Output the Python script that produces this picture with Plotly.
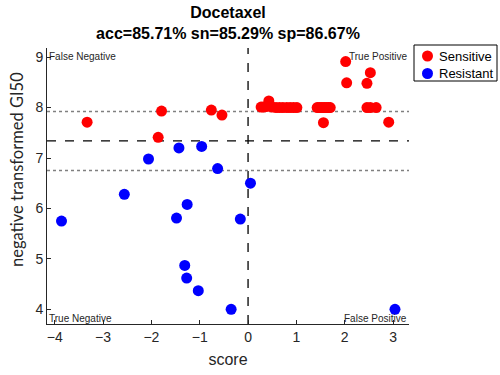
import plotly.graph_objects as go

# ---- data ----
sens_x = [-3.33, -1.79, -1.86, -0.76, -0.54,
          0.27, 0.32, 0.38, 0.43, 0.50, 0.58, 0.65, 0.72, 0.80, 0.87, 0.94, 1.01,
          1.43, 1.47, 1.51, 1.55, 1.59, 1.63, 1.67, 1.70,
          1.56,
          2.02, 2.04, 2.53, 2.46,
          2.46, 2.53, 2.65,
          2.91]
sens_y = [7.71, 7.93, 7.41, 7.95, 7.85,
          8.01, 8.01, 8.02, 8.13, 8.01, 8.00, 8.00, 8.00, 8.00, 8.00, 8.00, 8.00,
          8.00, 8.00, 8.00, 8.00, 8.00, 8.00, 8.00, 8.00,
          7.70,
          8.91, 8.49, 8.69, 8.48,
          8.00, 8.00, 8.00,
          7.71]
res_x = [-3.86, -2.56, -2.06, -1.43, -0.96, -0.63, 0.05, -1.26, -1.48, -0.16,
         -1.31, -1.27, -1.03, -0.35, 3.04]
res_y = [5.75, 6.28, 6.98, 7.20, 7.23, 6.79, 6.50, 6.08, 5.81, 5.79,
         4.87, 4.62, 4.37, 4.00, 4.00]

series_names = ["Sensitive", "Resistant"]
series_colors = ["#ff0000", "#0000ff"]

score_threshold = 0.0
gi50_threshold = 7.34
gi50_bounds = [7.92, 6.75]

x_ticks = [-4, -3, -2, -1, 0, 1, 2, 3]
y_ticks = [4, 5, 6, 7, 8, 9]

title_line1 = "Docetaxel"
title_line2 = "acc=85.71% sn=85.29% sp=86.67%"

# ---- layout geometry (pixels) ----
W, H = 500, 375
ML, MR, MT, MB = 47, 91, 48, 51
PW, PH = W - ML - MR, H - MT - MB


def px_x(p):
    return (p - ML) / PW


def px_y(p):
    return (H - MB - p) / PH


FONT = "Liberation Sans, Arial, sans-serif"
fig = go.Figure()
for xs, ys, nm, col in [(sens_x, sens_y, series_names[0], series_colors[0]),
                        (res_x, res_y, series_names[1], series_colors[1])]:
    fig.add_trace(go.Scatter(x=xs, y=ys, mode="markers", name=nm,
                             marker=dict(color=col, size=11, line=dict(width=0))))

fig.add_shape(type="line", xref="x", yref="paper", x0=score_threshold, x1=score_threshold,
              y0=0, y1=1, line=dict(color="black", width=1.3, dash="dash"), layer="below")
fig.add_shape(type="line", xref="paper", yref="y", x0=0, x1=1,
              y0=gi50_threshold, y1=gi50_threshold,
              line=dict(color="black", width=1.3, dash="dash"), layer="below")
for b in gi50_bounds:
    fig.add_shape(type="line", xref="paper", yref="y", x0=0, x1=1, y0=b, y1=b,
                  line=dict(color="#808080", width=1.5, dash="dot"), layer="below")

ann_font = dict(family=FONT, size=10, color="#262626")
fig.add_annotation(text="False Negative", xref="paper", yref="paper", x=0.0, y=1.0,
                   xanchor="left", yanchor="top", showarrow=False, font=ann_font, yshift=-1)
fig.add_annotation(text="True Positive", xref="paper", yref="paper", x=1.0, y=1.0,
                   xanchor="right", yanchor="top", showarrow=False, font=ann_font, yshift=-1)
fig.add_annotation(text="True Negative", xref="paper", yref="paper", x=0.0, y=0.0,
                   xanchor="left", yanchor="bottom", showarrow=False, font=ann_font, yshift=-2)
fig.add_annotation(text="False Positive", xref="paper", yref="paper", x=1.0, y=0.0,
                   xanchor="right", yanchor="bottom", showarrow=False, font=ann_font, yshift=-2)

# y axis title (placed like the reference, slightly above plot centre)
fig.add_annotation(text="negative transformed GI50", xref="paper", yref="paper",
                   x=px_x(17), y=px_y(170), xanchor="center", yanchor="middle",
                   textangle=-90, showarrow=False,
                   font=dict(family="Lato, sans-serif", size=16.5, color="#262626"))

# compact boxed legend (MATLAB style)
fig.add_shape(type="rect", xref="paper", yref="paper",
              x0=px_x(414), x1=px_x(497), y0=px_y(81), y1=px_y(45),
              line=dict(color="black", width=1), fillcolor="white")
for i, (nm, col) in enumerate(zip(series_names, series_colors)):
    cy = 56 + i * 17.5
    fig.add_shape(type="circle", xref="paper", yref="paper",
                  xsizemode="pixel", ysizemode="pixel",
                  xanchor=px_x(427.5), yanchor=px_y(cy),
                  x0=-5.5, x1=5.5, y0=-5.5, y1=5.5,
                  line=dict(width=0), fillcolor=col)
    fig.add_annotation(text=nm, xref="paper", yref="paper", x=px_x(437), y=px_y(cy),
                       xanchor="left", yanchor="middle", showarrow=False,
                       font=dict(family=FONT, size=13, color="black"))

fig.update_layout(
    width=W, height=H,
    margin=dict(l=ML, r=MR, t=MT, b=MB, autoexpand=False),
    paper_bgcolor="white", plot_bgcolor="white",
    font=dict(family=FONT, color="#262626"),
    title=dict(text="<b>" + title_line1 + "</b><br><b>" + title_line2 + "</b>",
               x=(ML + W - MR) / 2 / W, xanchor="center", y=0.952, yanchor="top",
               font=dict(family=FONT, size=16, color="black")),
    showlegend=False,
)
fig.update_xaxes(range=[-4.16, 3.33], tickvals=x_ticks, showgrid=False, zeroline=False,
                 showline=True, linecolor="#262626", linewidth=1, mirror=False,
                 ticks="inside", ticklen=4, tickcolor="#262626",
                 tickfont=dict(size=14, color="#262626"),
                 title=dict(text="score", font=dict(size=16, color="#262626"), standoff=10))
fig.update_yaxes(range=[3.71, 9.18], tickvals=y_ticks, showgrid=False, zeroline=False,
                 showline=True, linecolor="#262626", linewidth=1, mirror=False,
                 ticks="inside", ticklen=4, tickcolor="#262626",
                 tickfont=dict(size=14, color="#262626"))

fig.write_html("out.html")
